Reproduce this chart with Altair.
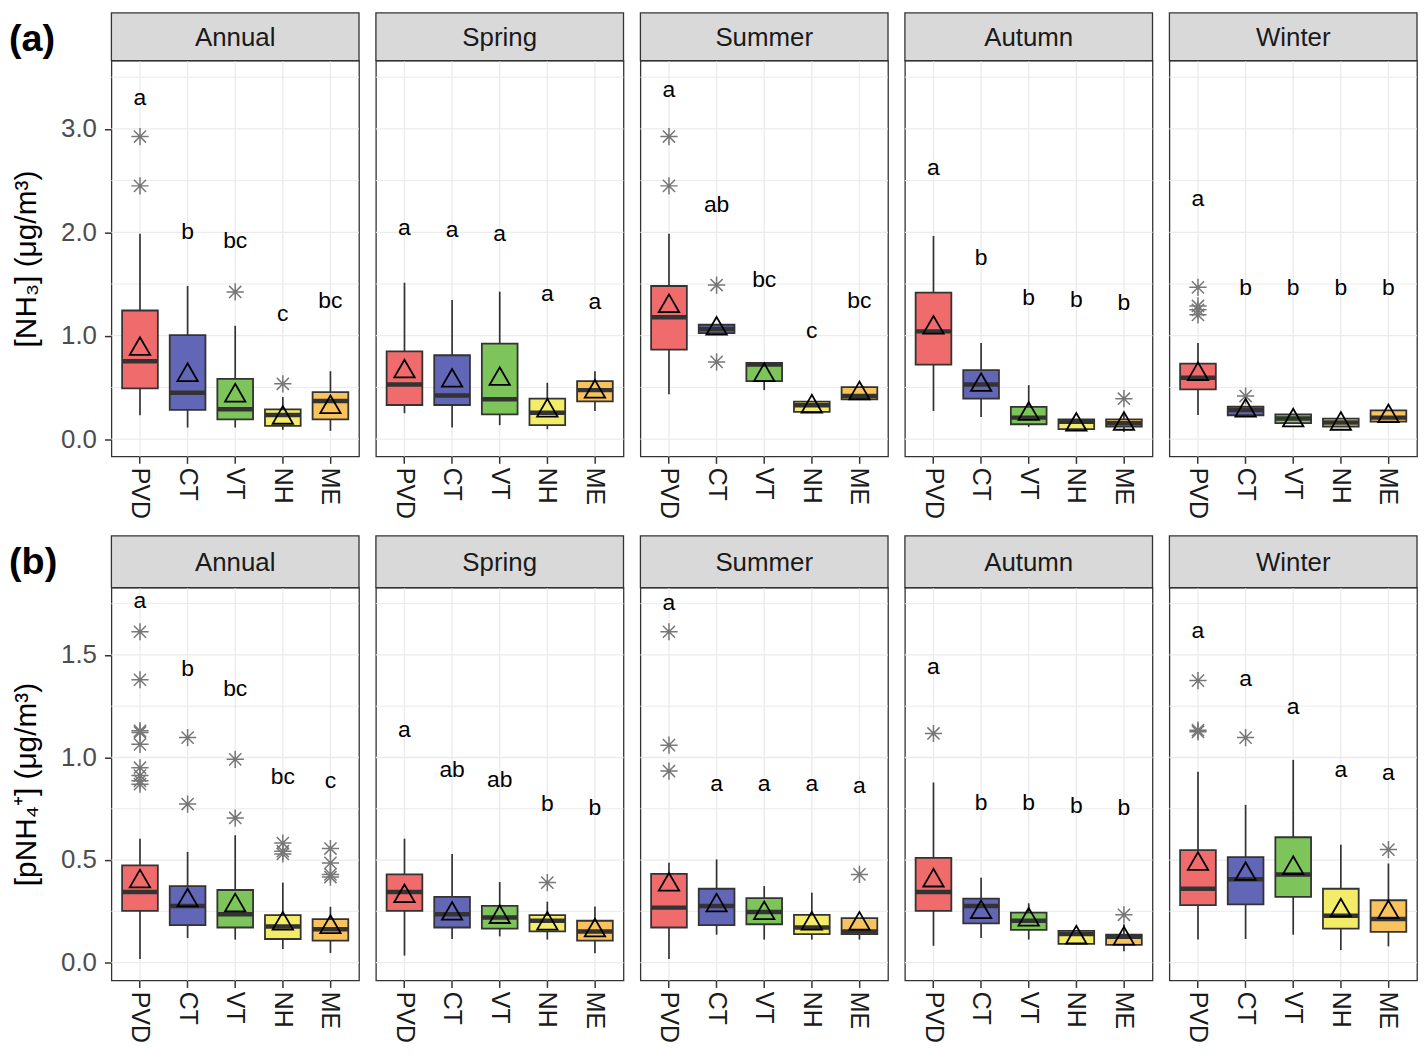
import altair as alt
import pandas as pd

FONT = "Liberation Sans"
SITES = ["PVD", "CT", "VT", "NH", "ME"]
SEASONS = ["Annual", "Spring", "Summer", "Autumn", "Winter"]
SITE_COLORS = ["#F06C6C", "#6266B6", "#7DC55A", "#F2EC68", "#F8C35C"]

NH3_LOW = {
    "Annual": [0.231, 0.112, 0.112, 0.090, 0.080],
    "Spring": [0.250, 0.112, 0.135, 0.096, 0.272],
    "Summer": [0.433, 1.026, 0.474, 0.263, 0.385],
    "Autumn": [0.272, 0.215, 0.119, 0.096, 0.070],
    "Winter": [0.234, 0.231, 0.154, 0.122, 0.170],
}
NH3_Q1 = {
    "Annual": [0.490, 0.282, 0.192, 0.128, 0.192],
    "Spring": [0.330, 0.330, 0.240, 0.135, 0.365],
    "Summer": [0.865, 1.026, 0.561, 0.263, 0.385],
    "Autumn": [0.721, 0.391, 0.144, 0.096, 0.122],
    "Winter": [0.481, 0.231, 0.154, 0.122, 0.170],
}
NH3_MED = {
    "Annual": [0.753, 0.449, 0.288, 0.234, 0.369],
    "Spring": [0.529, 0.423, 0.385, 0.256, 0.474],
    "Summer": [1.179, 1.064, 0.721, 0.327, 0.417],
    "Autumn": [1.042, 0.529, 0.208, 0.167, 0.154],
    "Winter": [0.593, 0.282, 0.199, 0.160, 0.208],
}
NH3_Q3 = {
    "Annual": [1.244, 1.006, 0.583, 0.288, 0.455],
    "Spring": [0.849, 0.811, 0.923, 0.391, 0.561],
    "Summer": [1.481, 1.106, 0.737, 0.362, 0.503],
    "Autumn": [1.417, 0.667, 0.311, 0.192, 0.192],
    "Winter": [0.731, 0.314, 0.240, 0.199, 0.279],
}
NH3_HIGH = {
    "Annual": [1.987, 1.481, 1.096, 0.407, 0.657],
    "Spring": [1.513, 1.346, 1.426, 0.545, 0.657],
    "Summer": [1.987, 1.106, 0.737, 0.362, 0.503],
    "Autumn": [1.965, 0.929, 0.522, 0.192, 0.250],
    "Winter": [0.929, 0.314, 0.240, 0.199, 0.279],
}
NH3_MEAN = {
    "Annual": [0.900, 0.647, 0.449, 0.234, 0.337],
    "Spring": [0.683, 0.593, 0.609, 0.304, 0.487],
    "Summer": [1.314, 1.096, 0.647, 0.343, 0.471],
    "Autumn": [1.106, 0.551, 0.272, 0.167, 0.176],
    "Winter": [0.657, 0.304, 0.208, 0.176, 0.250],
}
NH3_OUTLIERS = {
    "Annual": [[2.926, 2.449], [], [1.423], [0.535], []],
    "Spring": [[], [], [], [], []],
    "Summer": [[2.926, 2.449], [1.490, 0.747], [], [], []],
    "Autumn": [[], [], [], [], [0.391]],
    "Winter": [[1.468, 1.288, 1.250, 1.202], [0.417], [], [], []],
}
NH3_LETTERS = {
    "Annual": ["a", "b", "bc", "c", "bc"],
    "Spring": ["a", "a", "a", "a", "a"],
    "Summer": ["a", "ab", "bc", "c", "bc"],
    "Autumn": ["a", "b", "b", "b", "b"],
    "Winter": ["a", "b", "b", "b", "b"],
}
NH3_LETTER_Y = {
    "Annual": [3.300, 2.000, 1.913, 1.210, 1.337],
    "Spring": [2.045, 2.020, 1.980, 1.404, 1.330],
    "Summer": [3.372, 2.260, 1.538, 1.048, 1.337],
    "Autumn": [2.622, 1.747, 1.362, 1.346, 1.320],
    "Winter": [2.324, 1.458, 1.458, 1.458, 1.458],
}

PNH4_LOW = {
    "Annual": [0.018, 0.120, 0.112, 0.066, 0.047],
    "Spring": [0.034, 0.115, 0.128, 0.112, 0.045],
    "Summer": [0.018, 0.136, 0.112, 0.112, 0.112],
    "Autumn": [0.082, 0.120, 0.112, 0.091, 0.055],
    "Winter": [0.112, 0.115, 0.136, 0.061, 0.079],
}
PNH4_Q1 = {
    "Annual": [0.252, 0.183, 0.171, 0.115, 0.107],
    "Spring": [0.252, 0.171, 0.166, 0.152, 0.107],
    "Summer": [0.171, 0.183, 0.187, 0.139, 0.139],
    "Autumn": [0.252, 0.191, 0.160, 0.091, 0.086],
    "Winter": [0.280, 0.284, 0.320, 0.166, 0.150],
}
PNH4_MED = {
    "Annual": [0.344, 0.276, 0.236, 0.176, 0.163],
    "Spring": [0.344, 0.236, 0.220, 0.204, 0.152],
    "Summer": [0.268, 0.276, 0.247, 0.171, 0.152],
    "Autumn": [0.344, 0.276, 0.204, 0.139, 0.126],
    "Winter": [0.360, 0.406, 0.430, 0.228, 0.212],
}
PNH4_Q3 = {
    "Annual": [0.474, 0.373, 0.354, 0.231, 0.212],
    "Spring": [0.430, 0.320, 0.276, 0.231, 0.204],
    "Summer": [0.433, 0.360, 0.314, 0.233, 0.217],
    "Autumn": [0.511, 0.312, 0.244, 0.155, 0.136],
    "Winter": [0.548, 0.514, 0.611, 0.360, 0.304],
}
PNH4_HIGH = {
    "Annual": [0.604, 0.540, 0.621, 0.390, 0.272],
    "Spring": [0.604, 0.530, 0.393, 0.297, 0.273],
    "Summer": [0.487, 0.503, 0.373, 0.341, 0.217],
    "Autumn": [0.878, 0.414, 0.289, 0.155, 0.187],
    "Winter": [0.931, 0.769, 0.988, 0.575, 0.483],
}
PNH4_MEAN = {
    "Annual": [0.410, 0.317, 0.293, 0.204, 0.187],
    "Spring": [0.338, 0.252, 0.236, 0.204, 0.171],
    "Summer": [0.394, 0.293, 0.255, 0.204, 0.204],
    "Autumn": [0.414, 0.260, 0.223, 0.136, 0.131],
    "Winter": [0.495, 0.446, 0.475, 0.268, 0.260],
}
PNH4_OUTLIERS = {
    "Annual": [[1.613, 1.379, 1.130, 1.122, 1.064, 0.950, 0.912, 0.886, 0.870],
               [1.097, 0.773], [0.991, 0.705], [0.583, 0.543, 0.530],
               [0.556, 0.486, 0.430, 0.417]],
    "Spring": [[], [], [], [0.390], []],
    "Summer": [[1.613, 1.060, 0.934], [], [], [], [0.430]],
    "Autumn": [[1.117], [], [], [], [0.233]],
    "Winter": [[1.375, 1.133, 1.125], [1.097], [], [], [0.551]],
}
PNH4_LETTERS = {
    "Annual": ["a", "b", "bc", "bc", "c"],
    "Spring": ["a", "ab", "ab", "b", "b"],
    "Summer": ["a", "a", "a", "a", "a"],
    "Autumn": ["a", "b", "b", "b", "b"],
    "Winter": ["a", "a", "a", "a", "a"],
}
PNH4_LETTER_Y = {
    "Annual": [1.763, 1.432, 1.332, 0.907, 0.887],
    "Spring": [1.133, 0.939, 0.891, 0.773, 0.753],
    "Summer": [1.755, 0.870, 0.870, 0.870, 0.863],
    "Autumn": [1.440, 0.777, 0.777, 0.761, 0.753],
    "Winter": [1.618, 1.384, 1.246, 0.939, 0.926],
}

ROWS = [
    dict(label="(a)", title="[NH₃] (μg/m³)", ticks=[0.0, 1.0, 2.0, 3.0],
         minor=[0.5, 1.5, 2.5, 3.5], domain=[-0.167, 3.66], height=398, strip=48,
         low=NH3_LOW, q1=NH3_Q1, med=NH3_MED, q3=NH3_Q3, high=NH3_HIGH,
         mean=NH3_MEAN, out=NH3_OUTLIERS, let=NH3_LETTERS, ly=NH3_LETTER_Y),
    dict(label="(b)", title="[pNH₄⁺] (μg/m³)", ticks=[0.0, 0.5, 1.0, 1.5],
         minor=[0.25, 0.75, 1.25, 1.75], domain=[-0.087, 1.828], height=395, strip=52,
         low=PNH4_LOW, q1=PNH4_Q1, med=PNH4_MED, q3=PNH4_Q3, high=PNH4_HIGH,
         mean=PNH4_MEAN, out=PNH4_OUTLIERS, let=PNH4_LETTERS, ly=PNH4_LETTER_Y),
]

W = 249
BOX_W = 36
ASTERISK = ("M-1,0L1,0M0,-1L0,1M-0.7071,-0.7071L0.7071,0.7071"
            "M-0.7071,0.7071L0.7071,-0.7071")
GRID = "#EBEBEB"
DARK = "#333333"


def make_panel(row, season, first):
    H = row["height"]
    S = row["strip"]
    box = pd.DataFrame({
        "site": SITES,
        "low": row["low"][season], "q1": row["q1"][season],
        "med": row["med"][season], "q3": row["q3"][season],
        "high": row["high"][season], "mean": row["mean"][season],
        "letter": row["let"][season], "ly": row["ly"][season],
    })
    out_rows = [(s, v) for s, vals in zip(SITES, row["out"][season]) for v in vals]
    outl = pd.DataFrame(out_rows, columns=["site", "value"])

    x_axis = alt.Axis(title=None, labelAngle=90, labelFontSize=25, labelColor="#1A1A1A",
                      labelFont=FONT, tickColor=DARK, tickSize=7, tickWidth=1.5,
                      labelPadding=4, domain=False, grid=False)
    xs = alt.Scale(type="band", domain=SITES, paddingInner=0.25, paddingOuter=0.225)

    def X():
        return alt.X("site:N", sort=SITES, scale=xs, axis=x_axis)

    ys = alt.Scale(domain=row["domain"], nice=False, zero=False)
    if first:
        y_axis = alt.Axis(values=row["ticks"], format=".1f", labelFontSize=26,
                          labelColor="#4D4D4D", labelFont=FONT, tickColor=DARK,
                          tickSize=7, tickWidth=1.5, labelPadding=8, domain=False,
                          grid=False, title=row["title"], titleFontSize=30,
                          titleFont=FONT, titleFontWeight="normal", titleColor="black",
                          titlePadding=19)
    else:
        y_axis = None

    def Y(field):
        return alt.Y(field, type="quantitative", scale=ys, axis=y_axis)

    sites_df = pd.DataFrame({"site": SITES})
    vgrid = alt.Chart(sites_df).mark_rule(color=GRID, strokeWidth=1.3).encode(x=X())
    hgrid = alt.Chart(pd.DataFrame({"v": row["ticks"]})).mark_rule(
        color=GRID, strokeWidth=1.3).encode(y=Y("v"))
    mgrid = alt.Chart(pd.DataFrame({"v": row["minor"]})).mark_rule(
        color=GRID, strokeWidth=1.0).encode(y=Y("v"))

    whisk = alt.Chart(box).mark_rule(color=DARK, strokeWidth=1.7).encode(
        x=X(), y=Y("low"), y2="high")
    bars = alt.Chart(box).mark_bar(stroke=DARK, strokeWidth=1.8, opacity=1).encode(
        x=X(), y=Y("q1"), y2="q3",
        color=alt.Color("site:N", scale=alt.Scale(domain=SITES, range=SITE_COLORS),
                        legend=None))
    med = alt.Chart(box).mark_tick(color=DARK, thickness=4.5, size=BOX_W, opacity=1).encode(
        x=X(), y=Y("med"))
    outs = alt.Chart(outl).mark_point(shape=ASTERISK, size=300, filled=False,
                                      color="#777777", strokeWidth=1.5, opacity=1).encode(
        x=X(), y=Y("value"))
    means = alt.Chart(box).mark_point(shape="triangle-up", size=420, filled=False,
                                      color="black", strokeWidth=1.8, opacity=1).encode(
        x=X(), y=Y("mean"))
    letters = alt.Chart(box).mark_text(fontSize=23, font=FONT, color="black",
                                       baseline="middle").encode(
        x=X(), y=Y("ly"), text="letter:N")

    sdf = pd.DataFrame({"t": [season]})
    strip = alt.Chart(sdf).mark_rect(fill="#D9D9D9", stroke=DARK, strokeWidth=1.3).encode(
        x=alt.value(0), x2=alt.value(W), y=alt.value(-S), y2=alt.value(0))
    strip_txt = alt.Chart(sdf).mark_text(fontSize=26, font=FONT, color="#1A1A1A",
                                         baseline="middle").encode(
        x=alt.value(W / 2), y=alt.value(-S / 2 + 1), text="t:N")

    layers = [vgrid, hgrid, mgrid, whisk, bars, med, outs, means, letters, strip, strip_txt]
    if first:
        lab = alt.Chart(pd.DataFrame({"t": [row["label"]]})).mark_text(
            fontSize=38, font=FONT, fontWeight="bold", color="black",
            align="left", baseline="middle").encode(
            x=alt.value(-103), y=alt.value(-S + 27), text="t:N")
        layers.append(lab)
    return alt.layer(*layers).properties(width=W, height=H)


panels = []
for row in ROWS:
    for i, season in enumerate(SEASONS):
        panels.append(make_panel(row, season, i == 0))

chart = alt.concat(
    *panels, columns=5, spacing=alt.RowColnumber(row=132, column=17), bounds="flush"
).resolve_scale(x="independent", y="independent").properties(
    padding=0, background="white"
).configure_view(stroke=DARK, strokeWidth=1.3)

chart.save("out.html", embed_options={"renderer": "svg", "actions": False})
